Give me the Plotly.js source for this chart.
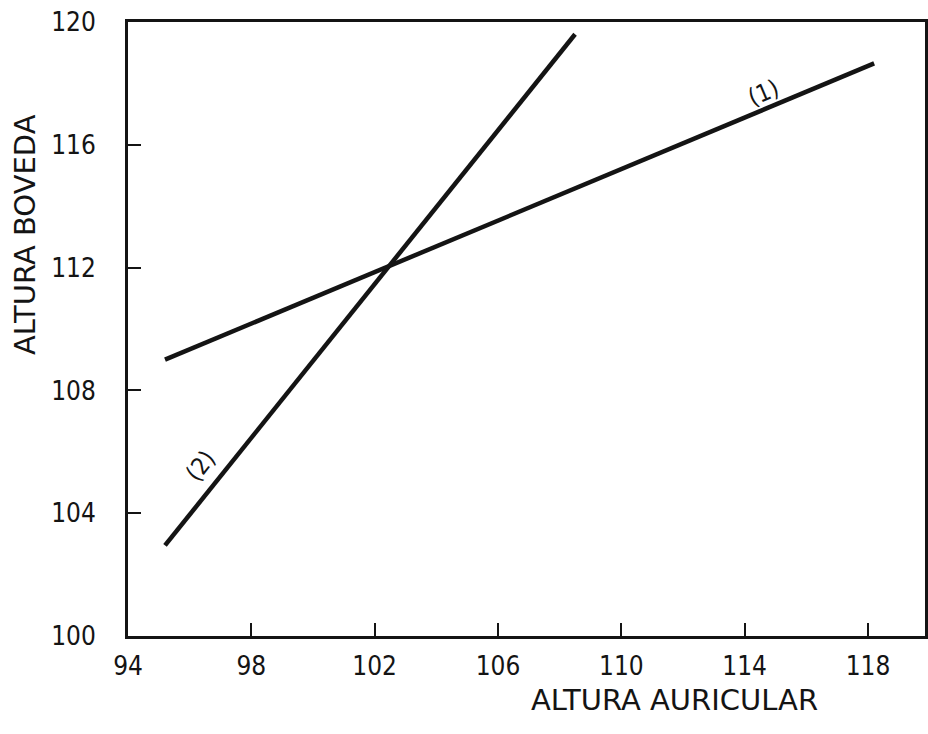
<!DOCTYPE html>
<html>
<head>
<meta charset="utf-8">
<script src="https://cdn.plot.ly/plotly-3.0.1.min.js"></script>
<style>
  html, body { margin: 0; padding: 0; background: #ffffff; }
  #chart { width: 928px; height: 734px; }
</style>
</head>
<body>
<div id="chart"></div>
<script>
// Regression lines: vault height against auricular height
const line1X = [95.2, 118.2];
const line1Y = [109.0, 118.65];
const line2X = [95.2, 108.5];
const line2Y = [102.95, 119.6];

const xTicks = [94, 98, 102, 106, 110, 114, 118];
const yTicks = [100, 104, 108, 112, 116, 120];

const lineLabels = ['(1)', '(2)'];
const xTitle = 'ALTURA AURICULAR';
const yTitle = 'ALTURA BOVEDA';

const ink = '#141414';
const font = 'DejaVu Sans Condensed, DejaVu Sans, sans-serif';
const titleFont = 'DejaVu Sans, sans-serif';

const traces = [
  { x: line1X, y: line1Y, mode: 'lines', line: { color: ink, width: 4.5 }, hoverinfo: 'skip' },
  { x: line2X, y: line2Y, mode: 'lines', line: { color: ink, width: 4.5 }, hoverinfo: 'skip' }
];

const axisCommon = {
  showgrid: false,
  zeroline: false,
  showline: true,
  mirror: true,
  linecolor: ink,
  linewidth: 3,
  ticks: 'inside',
  ticklen: 13,
  tickwidth: 2,
  tickcolor: ink,
  tickfont: { family: font, size: 26, color: ink }
};

const layout = {
  width: 928,
  height: 734,
  margin: { l: 128, r: 3, t: 22, b: 98 },
  paper_bgcolor: '#ffffff',
  plot_bgcolor: '#ffffff',
  showlegend: false,
  xaxis: Object.assign({}, axisCommon, {
    range: [94, 119.85],
    tickvals: xTicks,
    ticktext: xTicks.map(String),
    ticklabelstandoff: 5
  }),
  yaxis: Object.assign({}, axisCommon, {
    range: [100, 120],
    tickvals: yTicks,
    ticktext: yTicks.map(String),
    ticklabelstandoff: 24
  }),
  annotations: [
    { x: 114.6, y: 117.7, xref: 'x', yref: 'y', text: lineLabels[0], showarrow: false,
      textangle: -23, font: { family: font, size: 24, color: ink } },
    { x: 96.35, y: 105.55, xref: 'x', yref: 'y', text: lineLabels[1], showarrow: false,
      textangle: -52, font: { family: font, size: 24, color: ink } },
    { xref: 'paper', yref: 'paper', text: xTitle, showarrow: false,
      xanchor: 'center', yanchor: 'middle',
      font: { family: titleFont, size: 29, color: ink } },
    { xref: 'paper', yref: 'paper', text: yTitle, showarrow: false,
      xanchor: 'center', yanchor: 'middle',
      textangle: -90, font: { family: titleFont, size: 29, color: ink } }
  ]
};

// Pixel placement of the axis titles, converted to paper fractions
const plotW = 928 - 128 - 3;
const plotH = 734 - 22 - 98;
layout.annotations[2].x = (674 - 128) / plotW;
layout.annotations[2].y = (636 - 700) / plotH;
layout.annotations[3].x = (25 - 128) / plotW;
layout.annotations[3].y = (636 - 234) / plotH;

Plotly.newPlot('chart', traces, layout, { displayModeBar: false, staticPlot: true });
</script>
</body>
</html>
